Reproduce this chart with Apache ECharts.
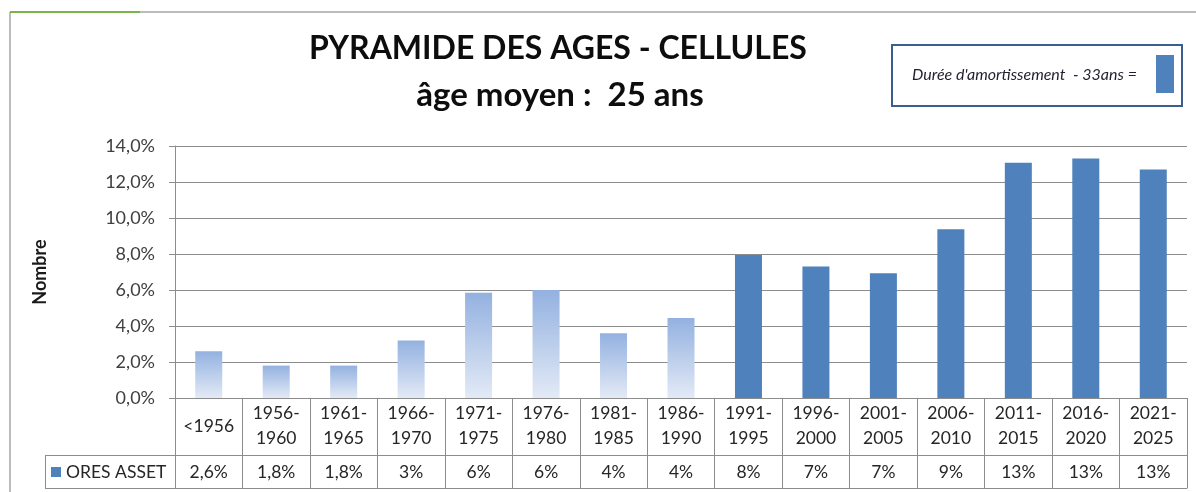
<!DOCTYPE html>
<html>
<head>
<meta charset="utf-8">
<script src="https://cdn.jsdelivr.net/npm/echarts@6/dist/echarts.min.js"></script>
<style>
  html, body { margin: 0; padding: 0; background: #fff; }
  #chart { width: 1196px; height: 492px; }
</style>
</head>
<body>
<div id="chart"></div>
<script>
// tranches d'années de mise en service
const categories = ['<1956', '1956-1960', '1961-1965', '1966-1970', '1971-1975', '1976-1980', '1981-1985',
  '1986-1990', '1991-1995', '1996-2000', '2001-2005', '2006-2010', '2011-2015', '2016-2020', '2021-2025'];
// part des cellules (%)
const values = [2.6, 1.8, 1.8, 3.2, 5.85, 6.0, 3.6, 4.45, 7.95, 7.3, 6.93, 9.37, 13.07, 13.3, 12.7];
// valeurs affichées dans la table
const tableLabels = ['2,6%', '1,8%', '1,8%', '3%', '6%', '6%', '4%', '4%', '8%', '7%', '7%', '9%', '13%', '13%', '13%'];
const seriesName = 'ORES ASSET';
const yTicks = [0, 2, 4, 6, 8, 10, 12, 14];
// au-delà de la durée d'amortissement (33 ans) -> barres claires
const amortCutoffYear = 1990;

const FONT = 'Lato, "Liberation Sans", sans-serif';
const GRID_COLOR = '#8c8c8c';
const DARK = '#4f81bd';
const FS = 17.5;

const endYear = (c) => (c.startsWith('<') ? parseInt(c.slice(1), 10) - 1 : parseInt(c.split('-')[1], 10));

const chart = echarts.init(document.getElementById('chart'));

const barData = values.map((v, i) => {
  if (endYear(categories[i]) <= amortCutoffYear) {
    return {
      value: v,
      itemStyle: {
        color: new echarts.graphic.LinearGradient(0, 0, 0, 1, [
          { offset: 0, color: '#93b1e0' },
          { offset: 1, color: '#e3eaf6' },
        ]),
      },
    };
  }
  return v;
});

const option = {
  animation: false,
  textStyle: { fontFamily: FONT },
  grid: { left: 175, right: 9, top: 146, bottom: 94, containLabel: false },
  legend: {
    left: 51,
    top: 463,
    padding: 0,
    itemWidth: 10,
    itemHeight: 10,
    itemGap: 4,
    icon: 'rect',
    textStyle: { fontSize: FS, color: '#262626', fontFamily: FONT },
    data: [seriesName],
  },
  xAxis: [
    {
      type: 'category',
      data: categories,
      position: 'bottom',
      axisLine: { lineStyle: { color: GRID_COLOR } },
      axisTick: { show: true, interval: 0, length: 90, lineStyle: { color: GRID_COLOR } },
      axisLabel: {
        interval: 0,
        margin: 28,
        verticalAlign: 'middle',
        fontSize: FS,
        lineHeight: 25,
        color: '#262626',
        formatter: (v) => v.replace('-', '-\n'),
      },
    },
    {
      type: 'category',
      data: categories,
      position: 'bottom',
      offset: 57,
      axisLine: { lineStyle: { color: GRID_COLOR } },
      axisTick: { show: false },
      axisLabel: {
        interval: 0,
        margin: 17,
        verticalAlign: 'middle',
        fontSize: FS,
        color: '#262626',
        formatter: (v, i) => tableLabels[i],
      },
    },
    {
      type: 'category',
      data: categories,
      position: 'bottom',
      offset: 90,
      axisLine: { lineStyle: { color: GRID_COLOR } },
      axisTick: { show: false },
      axisLabel: { show: false },
    },
  ],
  yAxis: {
    type: 'value',
    min: yTicks[0],
    max: yTicks[yTicks.length - 1],
    interval: yTicks[1] - yTicks[0],
    name: 'Nombre',
    nameLocation: 'middle',
    nameGap: 126,
    nameTextStyle: { fontSize: 18, fontWeight: 'bold', color: '#1a1a1a' },
    axisLine: { show: true, lineStyle: { color: GRID_COLOR } },
    axisTick: { show: true, length: 6, lineStyle: { color: GRID_COLOR } },
    splitLine: { lineStyle: { color: GRID_COLOR } },
    axisLabel: {
      margin: 20,
      fontSize: 18,
      color: '#404040',
      formatter: (v) => v.toFixed(1).replace('.', ',') + '%',
    },
  },
  series: [
    {
      name: seriesName,
      type: 'bar',
      xAxisIndex: 0,
      barWidth: 27,
      itemStyle: { color: DARK },
      data: barData,
    },
  ],
  graphic: [
    // cadre
    { type: 'line', shape: { x1: 10, y1: 12, x2: 1196, y2: 12 }, style: { stroke: '#a6a6a6', lineWidth: 1.5 } },
    { type: 'line', shape: { x1: 10, y1: 12, x2: 10, y2: 492 }, style: { stroke: '#a6a6a6', lineWidth: 1.5 } },
    { type: 'line', shape: { x1: 10, y1: 12, x2: 140, y2: 12 }, style: { stroke: '#7bb54a', lineWidth: 2 } },
    // titre
    {
      type: 'text',
      style: {
        text: 'PYRAMIDE DES AGES - CELLULES', x: 558, y: 49, align: 'center', verticalAlign: 'middle',
        font: 'bold 32px ' + FONT, fill: '#0d0d0d',
      },
    },
    {
      type: 'text',
      style: {
        text: 'âge moyen :  25 ans', x: 560, y: 95, align: 'center', verticalAlign: 'middle',
        font: 'bold 33px ' + FONT, fill: '#0d0d0d',
      },
    },
    // encadré durée d'amortissement
    {
      type: 'rect', shape: { x: 892, y: 45, width: 290, height: 61 },
      style: { fill: '#fff', stroke: '#3d5d8e', lineWidth: 2 },
    },
    {
      type: 'text',
      style: {
        text: "Durée d'amortissement  - 33ans =", x: 912, y: 75, verticalAlign: 'middle',
        font: 'italic 16px ' + FONT, fill: '#1f1f2e',
      },
    },
    {
      type: 'rect', shape: { x: 1156, y: 55, width: 18, height: 38 },
      style: { fill: DARK },
    },
    // cellule de légende de la table
    { type: 'line', shape: { x1: 45, y1: 455.5, x2: 175, y2: 455.5 }, style: { stroke: GRID_COLOR, lineWidth: 1 } },
    { type: 'line', shape: { x1: 45, y1: 488.5, x2: 175, y2: 488.5 }, style: { stroke: GRID_COLOR, lineWidth: 1 } },
    { type: 'line', shape: { x1: 45.5, y1: 455, x2: 45.5, y2: 489 }, style: { stroke: GRID_COLOR, lineWidth: 1 } },
  ],
};

chart.setOption(option);
</script>
</body>
</html>
